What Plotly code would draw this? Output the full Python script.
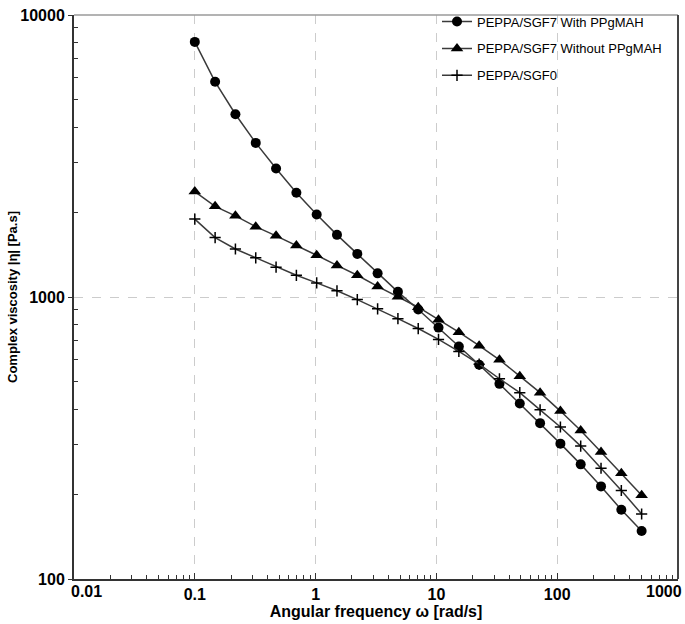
import plotly.graph_objects as go

# Angular frequency (rad/s)
freq = [0.1, 0.1473, 0.2169, 0.3195, 0.4707, 0.6933, 1.021, 1.503, 2.214, 3.261, 4.802,
        7.072, 10.41, 15.34, 22.59, 33.27, 49.0, 72.17, 106.3, 156.5, 230.6, 339.5, 500]

# Complex viscosity |eta| (Pa.s)
with_ppgmah = [8028, 5797, 4446, 3520, 2855, 2342, 1962, 1661, 1422, 1213, 1043,
               903, 779, 667, 575, 492, 419, 357, 302, 255, 213, 176, 148]
without_ppgmah = [2366, 2097, 1940, 1776, 1648, 1524, 1406, 1294, 1194, 1090, 1002,
                  920, 831, 750, 672, 599, 524, 458, 394, 336, 282, 237, 198]
sgf0 = [1889, 1625, 1480, 1377, 1276, 1194, 1122, 1052, 979, 908, 838,
        773, 707, 641, 578, 513, 458, 398, 346, 296, 247, 206, 170]

series_names = ["PEPPA/SGF7 With PPgMAH", "PEPPA/SGF7 Without PPgMAH", "PEPPA/SGF0"]

x_tickvals = [0.01, 0.1, 1, 10, 100, 1000]
x_ticktext = ["", "0.1", "1", "10", "100", ""]
y_tickvals = [100, 1000, 10000]
y_ticktext = ["100", "1000", "10000"]

x_minor = [m * 10 ** e for e in range(-2, 3) for m in range(2, 10)]
y_minor = [m * 10 ** e for e in range(2, 4) for m in range(2, 10)]

FONT = "Liberation Sans"
LINE = "#3a3a3a"
TICKFONT = dict(family=FONT, size=16, color="black", weight="bold")

fig = go.Figure()

fig.add_trace(go.Scatter(
    x=freq, y=with_ppgmah, name=series_names[0], mode="lines+markers",
    line=dict(color=LINE, width=1.5),
    marker=dict(symbol="circle", size=10, color="black"),
    legendgroup="a"))
fig.add_trace(go.Scatter(
    x=freq, y=without_ppgmah, name=series_names[1], mode="lines+markers",
    line=dict(color=LINE, width=1.5),
    marker=dict(symbol="triangle-up", size=11, color="black"),
    legendgroup="b"))
fig.add_trace(go.Scatter(
    x=freq, y=sgf0, name=series_names[2], mode="lines+markers",
    line=dict(color=LINE, width=1.5),
    marker=dict(symbol="cross-thin", size=8, color="black",
                line=dict(color="black", width=1.5)),
    legendgroup="c"))

axis_common = dict(
    type="log", automargin=False,
    showline=True, linecolor="#333333", linewidth=2,
    showgrid=True, gridcolor="#cccccc", griddash="dash", gridwidth=1,
    zeroline=False,
    tickfont=TICKFONT,
    tickmode="array",
)

fig.update_xaxes(
    **axis_common,
    range=[-2, 3],
    tickvals=x_tickvals, ticktext=x_ticktext,
    ticks="inside", ticklen=6, tickwidth=1.2, tickcolor="#333333",
    minor=dict(tickmode="array", tickvals=x_minor, ticks="inside", ticklen=4,
               tickwidth=1.2, tickcolor="#333333", showgrid=False),
    title=dict(text="Angular frequency ω [rad/s]",
               font=dict(family=FONT, size=16, color="black", weight="bold"),
               standoff=2),
)
fig.update_yaxes(
    **axis_common,
    range=[2, 4.00001],
    tickvals=y_tickvals, ticktext=y_ticktext,
    ticks="outside", ticklen=4, tickwidth=1.2, tickcolor="#333333",
    minor=dict(tickmode="array", tickvals=y_minor, ticks="inside", ticklen=4,
               tickwidth=1.2, tickcolor="#333333", showgrid=False),
    title=dict(text="Complex viscosity |η| [Pa.s]",
               font=dict(family=FONT, size=13, color="black", weight="bold"),
               standoff=0),
)

# frame (top and right)
fig.add_shape(type="line", xref="paper", yref="paper", x0=0, x1=1, y0=1, y1=1,
              line=dict(color="#9a9a9a", width=1.5))
fig.add_shape(type="line", xref="paper", yref="paper", x0=1, x1=1, y0=0, y1=1,
              line=dict(color="#444444", width=2))

# end tick labels of the x axis
fig.add_annotation(x=-2, y=0, xref="x", yref="paper", text="0.01", showarrow=False,
                   xanchor="left", yanchor="top", xshift=-5, yshift=-2,
                   font=TICKFONT)
fig.add_annotation(x=3, y=0, xref="x", yref="paper", text="1000", showarrow=False,
                   xanchor="right", yanchor="top", xshift=6, yshift=-2,
                   font=TICKFONT)

fig.update_layout(
    width=685, height=624,
    margin=dict(l=74, r=7, t=7, b=45),
    paper_bgcolor="white", plot_bgcolor="white",
    showlegend=True,
    legend=dict(x=0.601, y=1.015, xanchor="left", yanchor="top",
                bgcolor="rgba(0,0,0,0)", borderwidth=0,
                font=dict(family=FONT, size=13, color="black"),
                tracegroupgap=7, itemwidth=30),
)

fig.write_html("out.html",
               config={"displayModeBar": False},
               post_script="document.body.style.margin='0';document.body.style.overflow='hidden';")
